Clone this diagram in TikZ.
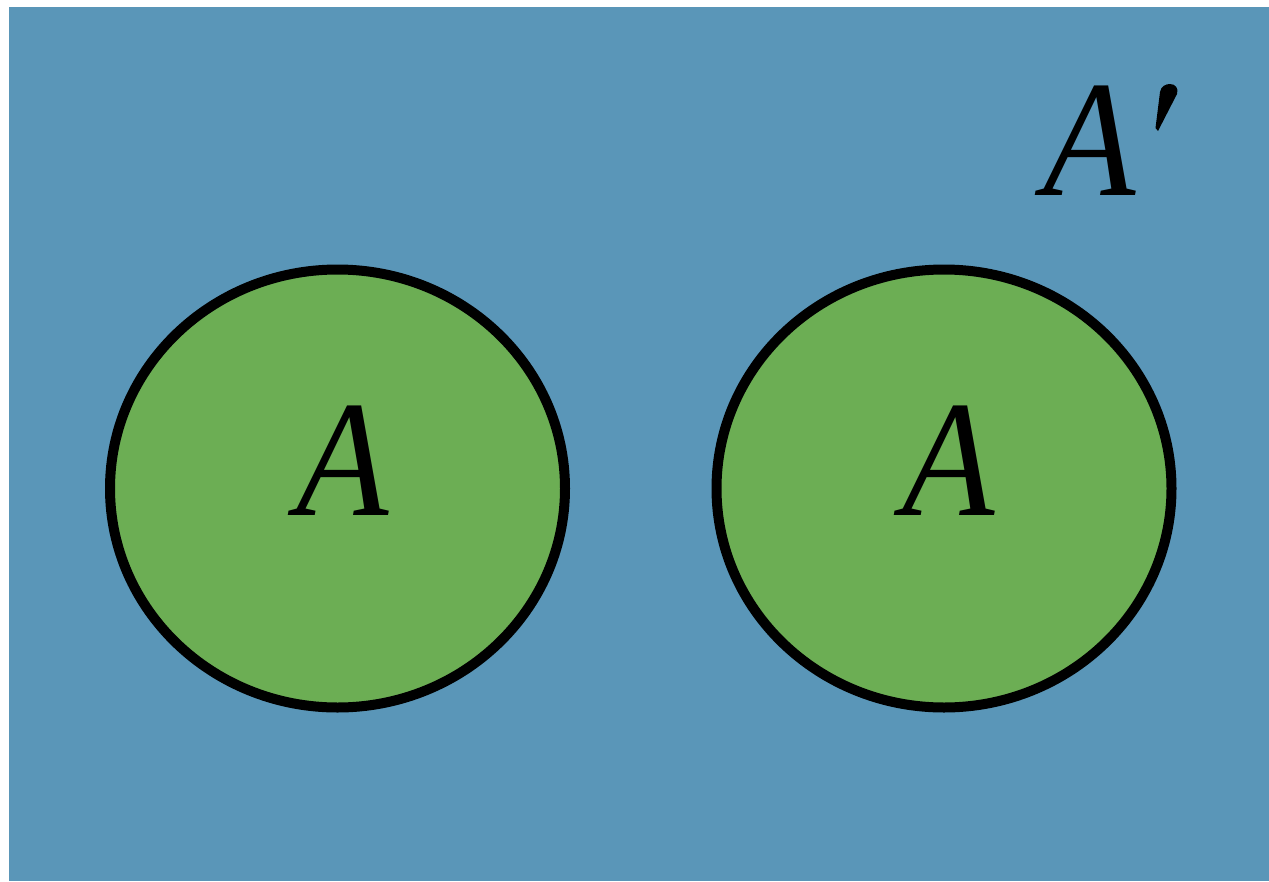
\documentclass[tikz,border=0pt]{standalone}
\usepackage{fontspec}
\setmainfont{Liberation Serif}
\definecolor{bgblue}{RGB}{90,150,184}
\definecolor{setgreen}{RGB}{108,174,84}
\begin{document}
\begin{tikzpicture}[x=1pt,y=-1pt,
  setell/.style={draw=black,line width=10pt,fill=setgreen},
  lbl/.style={inner sep=0pt,font=\fontsize{166}{166}\selectfont\itshape}]
\useasboundingbox (0,0) rectangle (1269,881);
\fill[white] (0,0) rectangle (1269,881);
\fill[bgblue] (9,7) rectangle (1269,881);
\draw[setell] (337.5,488.5) ellipse [x radius=227.5, y radius=219];
\draw[setell] (944,488.5) ellipse [x radius=227.5, y radius=219];
\node[lbl,anchor=base] (a1) at (343,515) {\scalebox{0.91}[1]{A}};
\node[lbl,anchor=base] (a2) at (949,515) {\scalebox{0.91}[1]{A}};
\node[lbl,anchor=base west] (ap) at (1043,195) {\scalebox{0.91}[1]{A}};
\fill[black] (1158,131) -- (1155.5,128) -- (1160,92)
  .. controls (1161,86) and (1166,84) .. (1170,84)
  .. controls (1175,84) and (1179,88) .. (1177,94) -- cycle;
\end{tikzpicture}
\end{document}
